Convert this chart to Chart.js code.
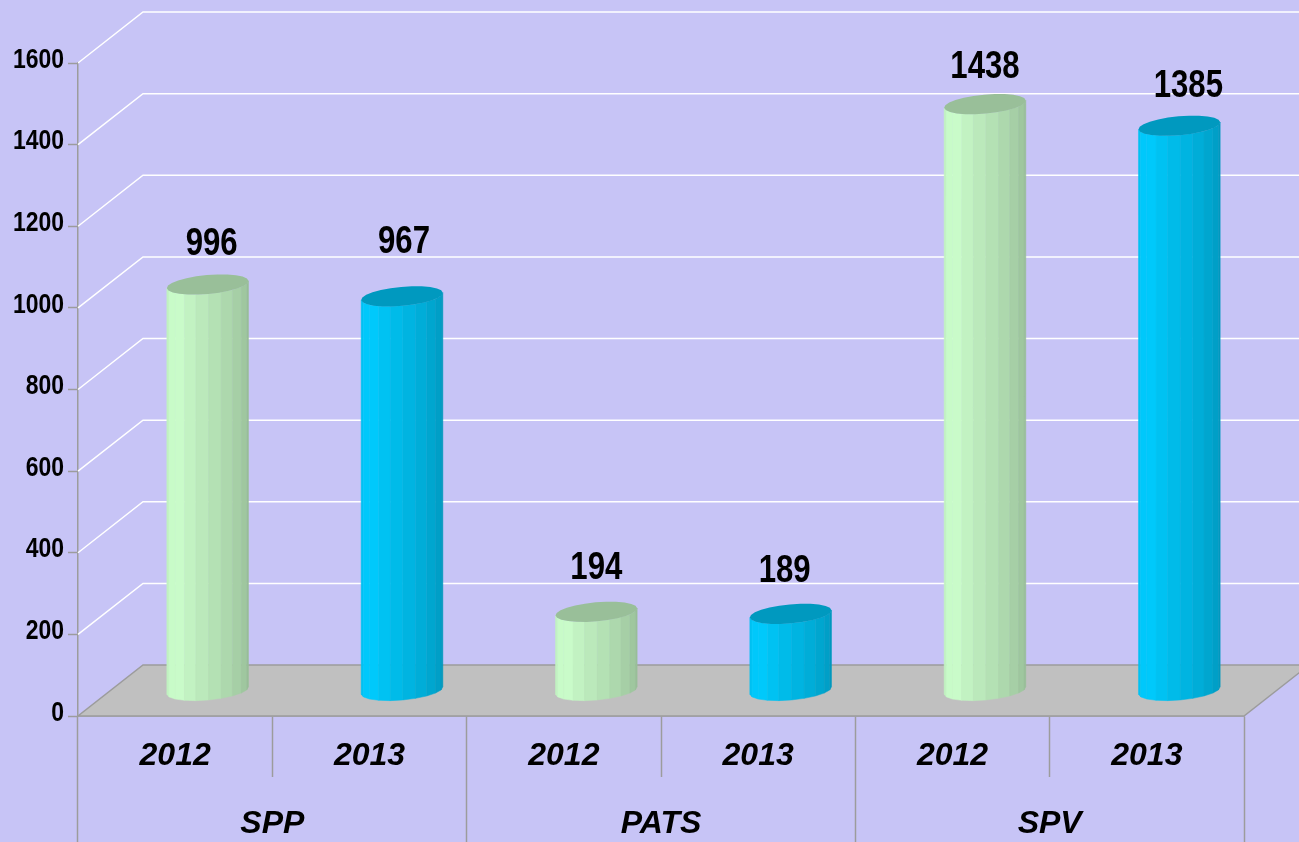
<!DOCTYPE html>
<html>
<head>
<meta charset="utf-8">
<style>
html, body { margin: 0; padding: 0; background: #c7c4f6; overflow: hidden; }
canvas { display: block; }
</style>
<script src="https://cdn.jsdelivr.net/npm/chart.js@4"></script>
</head>
<body>
<canvas id="grafico" width="1299" height="842"></canvas>
<script>
var anos = ['2012', '2013', '2012', '2013', '2012', '2013'];
var grupos = ['SPP', 'PATS', 'SPV'];
var valores = [996, 967, 194, 189, 1438, 1385];
var coresBarras = ['#ccffcc', '#00ccff', '#ccffcc', '#00ccff', '#ccffcc', '#00ccff'];

// labels were placed by hand in the original, so each one has its own nudge
var nudgeX = [4, 2, 0, -6, 0, 9];
var nudgeY = [2, -12, -2, -1, 5, 2];

var corEixo = '#9c9c9c';
var fonteBase = '"Liberation Sans", Arial, sans-serif';
// no Arial Narrow here, bold Liberation squeezed to the same width
var aperto = 0.82;

// depth of the 3D box
var profX = 65;
var profY = 51;

function sombra(hex, f) {
    var n = parseInt(hex.slice(1), 16);
    var r = Math.round(((n >> 16) & 255) * f);
    var g = Math.round(((n >> 8) & 255) * f);
    var b = Math.round((n & 255) * f);
    return 'rgb(' + r + ',' + g + ',' + b + ')';
}

function pontoElipse(cx, cy, rx, ry, t) {
    var rot = -0.09;
    var px = rx * Math.cos(t);
    var py = ry * Math.sin(t);
    return [cx + px * Math.cos(rot) - py * Math.sin(rot), cy + px * Math.sin(rot) + py * Math.cos(rot)];
}

function textoApertado(ctx, texto, x, y) {
    ctx.save();
    ctx.translate(x, y);
    ctx.scale(aperto, 1);
    ctx.fillText(texto, 0, 0);
    ctx.restore();
}

// bars drawn as faceted cylinders standing in the middle of the floor depth
Chart.BarElement.prototype.draw = function (ctx) {
    var cor = this.options.backgroundColor;
    var cx = this.x + profX / 2;
    var topo = this.y - 25;
    var base = this.base - 25;
    var rx = this.width / 2;
    var ry = 9.5;
    var n = 10;
    for (var i = 0; i < n; i++) {
        var t1 = Math.PI - Math.PI * i / n;
        var t2 = Math.PI - Math.PI * (i + 1) / n;
        var a = pontoElipse(cx, topo, rx, ry, t1);
        var b = pontoElipse(cx, topo, rx, ry, t2);
        var c = pontoElipse(cx, base, rx, ry, t2);
        var d = pontoElipse(cx, base, rx, ry, t1);
        var pos = (i + 0.5) / n;
        var f = pos < 0.2 ? 0.93 + pos * 0.35 : 1 - (pos - 0.2) * 0.34;
        ctx.fillStyle = sombra(cor, f);
        ctx.strokeStyle = ctx.fillStyle;
        ctx.lineWidth = 0.5;
        ctx.beginPath();
        ctx.moveTo(a[0], a[1]);
        ctx.lineTo(b[0], b[1]);
        ctx.lineTo(c[0], c[1]);
        ctx.lineTo(d[0], d[1]);
        ctx.closePath();
        ctx.fill();
        ctx.stroke();
    }
    ctx.fillStyle = sombra(cor, 0.75);
    ctx.beginPath();
    for (var j = 0; j < 24; j++) {
        var p = pontoElipse(cx, topo, rx, ry, Math.PI * 2 * j / 24);
        if (j === 0) ctx.moveTo(p[0], p[1]);
        else ctx.lineTo(p[0], p[1]);
    }
    ctx.closePath();
    ctx.fill();
};

var caixa3d = {
    id: 'caixa3d',
    beforeDatasetsDraw: function (chart) {
        var ctx = chart.ctx;
        var area = chart.chartArea;
        var y = chart.scales.y;
        ctx.save();

        // white wall lines, one per tick of the value axis
        ctx.strokeStyle = '#ffffff';
        ctx.lineWidth = 1.5;
        y.ticks.forEach(function (tick) {
            var py = y.getPixelForValue(tick.value);
            if (tick.value === 0) return;
            ctx.beginPath();
            ctx.moveTo(area.left, py);
            ctx.lineTo(area.left + profX, py - profY);
            ctx.lineTo(chart.width, py - profY);
            ctx.stroke();
        });

        // floor
        ctx.fillStyle = '#c0c0c0';
        ctx.strokeStyle = corEixo;
        ctx.lineWidth = 1.5;
        ctx.beginPath();
        ctx.moveTo(area.left, area.bottom);
        ctx.lineTo(area.right, area.bottom);
        ctx.lineTo(area.right + profX, area.bottom - profY);
        ctx.lineTo(area.left + profX, area.bottom - profY);
        ctx.closePath();
        ctx.fill();
        ctx.stroke();

        // value axis labels
        ctx.fillStyle = '#000000';
        ctx.font = 'bold 28px ' + fonteBase;
        ctx.textAlign = 'right';
        ctx.textBaseline = 'middle';
        y.ticks.forEach(function (tick) {
            textoApertado(ctx, tick.label, 64, y.getPixelForValue(tick.value) - 3);
        });
        ctx.restore();
    },
    afterDatasetsDraw: function (chart) {
        var ctx = chart.ctx;
        var meta = chart.getDatasetMeta(0);
        ctx.save();
        ctx.fillStyle = '#000000';
        ctx.font = 'bold 38px ' + fonteBase;
        ctx.textAlign = 'center';
        ctx.textBaseline = 'middle';
        meta.data.forEach(function (bar, i) {
            textoApertado(ctx, String(valores[i]), bar.x + profX / 2 + nudgeX[i], bar.y - 25 - 41.5 + nudgeY[i]);
        });
        ctx.restore();
    }
};

var ctx = document.getElementById('grafico').getContext('2d');
var grafico = new Chart(ctx, {
    type: 'bar',
    data: {
        labels: anos,
        datasets: [{
            data: valores,
            backgroundColor: coresBarras,
            barPercentage: 0.422,
            categoryPercentage: 1,
            clip: false
        }]
    },
    plugins: [caixa3d],
    options: {
        responsive: false,
        animation: false,
        layout: { padding: { top: 63, right: 55, bottom: 0, left: 0 } },
        plugins: {
            legend: { display: false },
            tooltip: { enabled: false }
        },
        scales: {
            y: {
                min: 0,
                max: 1600,
                afterFit: function (s) { s.width = 78; },
                ticks: {
                    stepSize: 200,
                    display: false,
                    callback: function (v) { return String(v); }
                },
                border: { color: corEixo, width: 1.5 },
                grid: { drawOnChartArea: false, tickLength: 10, tickColor: corEixo, tickWidth: 1.5 }
            },
            x: {
                offset: true,
                afterFit: function (s) { s.height = 61; },
                ticks: {
                    padding: -40,
                    maxRotation: 0,
                    autoSkip: false,
                    color: '#000000',
                    font: { family: fonteBase, size: 32, weight: 'bold', style: 'italic' }
                },
                border: { color: corEixo, width: 1.5 },
                grid: { offset: true, drawOnChartArea: false, tickLength: 61, tickColor: corEixo, tickWidth: 1.5 }
            },
            x2: {
                type: 'category',
                position: 'bottom',
                labels: grupos,
                offset: true,
                afterFit: function (s) { s.height = 65; },
                ticks: {
                    padding: -37,
                    maxRotation: 0,
                    autoSkip: false,
                    color: '#000000',
                    font: { family: fonteBase, size: 32, weight: 'bold', style: 'italic' }
                },
                border: { display: false },
                grid: { offset: true, drawOnChartArea: false, tickLength: 65, tickColor: corEixo, tickWidth: 1.5 }
            }
        }
    }
});
</script>
</body>
</html>
